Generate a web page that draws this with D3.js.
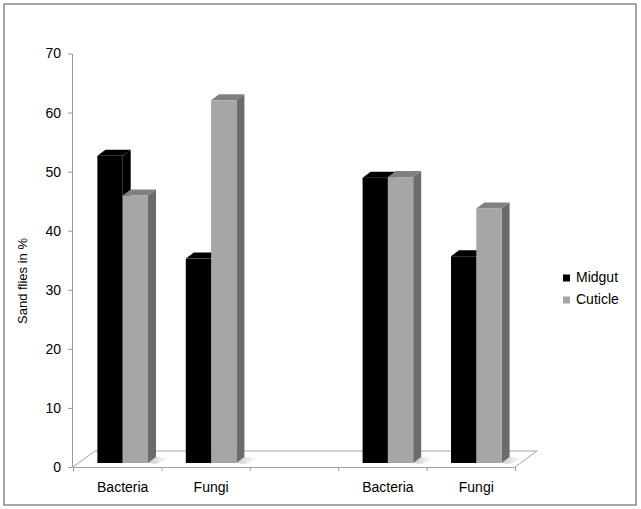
<!DOCTYPE html>
<html>
<head>
<meta charset="utf-8">
<script src="https://cdn.jsdelivr.net/npm/d3@7"></script>
<style>
  body { margin: 0; background: #fff; }
  svg { display: block; font-family: "Liberation Sans", Arial, sans-serif; }
</style>
</head>
<body>
<svg id="chart" width="641" height="509"></svg>
<script>
// data
const categories = ["Bacteria", "Fungi", "", "Bacteria", "Fungi"];
const series = ["Midgut", "Cuticle"];
const midgut = [52.0, 34.6, null, 48.3, 35.0];
const cuticle = [45.3, 61.4, null, 48.4, 43.1];
const yTicks = [0, 10, 20, 30, 40, 50, 60, 70];

const colors = {
    Midgut: { front: "#000", top: "#000", side: "#000" },
    Cuticle: { front: "#a6a6a6", top: "#808080", side: "#6b6b6b" }
};

const svg = d3.select("#chart");

// frame
svg.append("rect")
    .attr("x", 4).attr("y", 4).attr("width", 632).attr("height", 501)
    .attr("fill", "#fff").attr("stroke", "#8a8a8a").attr("stroke-width", 1.5);

const x0 = 73, x1 = 515;
const y = d3.scaleLinear().domain([0, 70]).range([467, 53.5]);
const x = d3.scaleBand().domain(d3.range(categories.length)).range([x0, x1]);
const xs = d3.scaleBand().domain(series).range([0, x.bandwidth()]).paddingOuter(0.747);
const edge = d3.scaleLinear().domain([0, categories.length]).range([x0, x1]);

// depth offsets
const floorD = [22, -16];
const barOff = [5.5, -4];
const barD = [8, -6];

// floor
const fl = svg.append("g").attr("fill", "none").attr("stroke", "#a3a3a3").attr("stroke-width", 1);
fl.append("path").attr("d", d3.line()([
    [x0, y(0)], [x0 + floorD[0], y(0) + floorD[1]],
    [x1 + floorD[0], y(0) + floorD[1]], [x1, y(0)]
]));

// shadow gradient
const defs = svg.append("defs");
const grad = defs.append("linearGradient").attr("id", "shadow")
    .attr("x1", "0").attr("x2", "1").attr("y1", "0").attr("y2", "0");
grad.append("stop").attr("offset", "0").attr("stop-color", "#999").attr("stop-opacity", 0.55);
grad.append("stop").attr("offset", "1").attr("stop-color", "#ccc").attr("stop-opacity", 0);

// front edge of floor & x ticks
svg.append("g")
    .attr("transform", `translate(0,${y(0)})`)
    .call(d3.axisBottom(edge).tickValues(d3.range(categories.length + 1)).tickFormat("").tickSize(4).tickSizeOuter(0))
    .call(g => g.select(".domain").attr("stroke", "#a3a3a3"))
    .call(g => g.selectAll(".tick line").attr("stroke", "#999"));

// bars
const rows = categories.map((c, i) => ({ i, Midgut: midgut[i], Cuticle: cuticle[i] }));

function drawBar(g, i, s, v) {
    if (v == null) return;
    const c = colors[s];
    const bx = x(i) + xs(s) + barOff[0];
    const bw = xs.bandwidth();
    const yb = y(0) + barOff[1];
    const yt = y(v) + barOff[1];
    const [dx, dy] = barD;
    if (s === "Cuticle") {
        g.append("path")
            .attr("d", d3.line()([[bx + bw, yb], [bx + bw + dx, yb + dy], [bx + bw + dx + 16, yb + dy + 1], [bx + bw + 8, yb + 1]]))
            .attr("fill", "url(#shadow)");
    }
    g.append("path")
        .attr("d", d3.line()([[bx + bw, yt], [bx + bw + dx, yt + dy], [bx + bw + dx, yb + dy], [bx + bw, yb]]))
        .attr("fill", c.side);
    g.append("path")
        .attr("d", d3.line()([[bx, yt], [bx + dx, yt + dy], [bx + bw + dx, yt + dy], [bx + bw, yt]]))
        .attr("fill", c.top);
    g.append("rect")
        .attr("x", bx).attr("y", yt).attr("width", bw).attr("height", yb - yt)
        .attr("fill", c.front);
}

const bars = svg.append("g");
rows.forEach(r => {
    series.forEach(s => drawBar(bars, r.i, s, r[s]));
});

// y axis
svg.append("g")
    .attr("transform", "translate(72,0)")
    .call(d3.axisLeft(y).tickValues(yTicks).tickSize(4).tickPadding(7).tickSizeOuter(0))
    .call(g => g.select(".domain").attr("stroke", "#999"))
    .call(g => g.selectAll(".tick line").attr("stroke", "#999"))
    .call(g => g.selectAll(".tick text")
        .attr("font-size", 14).attr("fill", "#000")
        .attr("font-family", "'Liberation Sans', Arial, sans-serif"));

// x labels
svg.append("g").selectAll("text")
    .data(categories.map((c, i) => ({ c, i })).filter(d => d.c))
    .join("text")
    .attr("x", d => x(d.i) + x.bandwidth() / 2 + barOff[0])
    .attr("y", 492)
    .attr("text-anchor", "middle")
    .attr("font-size", 14)
    .text(d => d.c);

// y title
svg.append("text")
    .attr("transform", "translate(27,281) rotate(-90)")
    .attr("text-anchor", "middle")
    .attr("font-size", 13)
    .text("Sand flies in %");

// legend
const leg = svg.append("g").selectAll("g")
    .data(series)
    .join("g")
    .attr("transform", (d, i) => `translate(563,${274.5 + i * 22})`);
leg.append("rect").attr("width", 7).attr("height", 7).attr("fill", d => colors[d].front);
leg.append("text").attr("x", 13).attr("y", 7.5).attr("font-size", 14).text(d => d);
</script>
</body>
</html>
